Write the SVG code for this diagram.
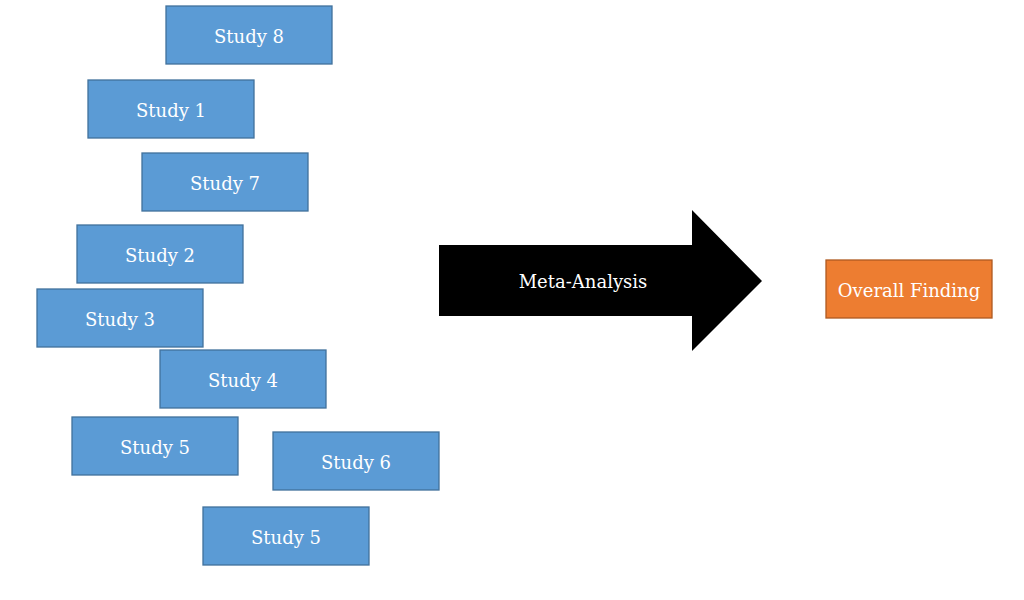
<svg xmlns="http://www.w3.org/2000/svg" width="1024" height="600" viewBox="0 0 1024 600">
<style>
.s{fill:#5B9BD5;stroke:#41719C;stroke-width:1.3}
.o{fill:#ED7D31;stroke:#AE5A21;stroke-width:1.3}
text{font-family:"DejaVu Serif","Liberation Serif",serif;font-size:18px;fill:#FFFFFF;text-anchor:middle;dominant-baseline:central}
</style>
<rect width="1024" height="600" fill="#FFFFFF"/>
<g id="study8"><rect class="s" x="166" y="6" width="166" height="58"/><text x="249" y="36">Study 8</text></g>
<g id="study1"><rect class="s" x="88" y="80" width="166" height="58"/><text x="171" y="110">Study 1</text></g>
<g id="study7"><rect class="s" x="142" y="153" width="166" height="58"/><text x="225" y="183">Study 7</text></g>
<g id="study2"><rect class="s" x="77" y="225" width="166" height="58"/><text x="160" y="255">Study 2</text></g>
<g id="study3"><rect class="s" x="37" y="289" width="166" height="58"/><text x="120" y="319">Study 3</text></g>
<g id="study4"><rect class="s" x="160" y="350" width="166" height="58"/><text x="243" y="380">Study 4</text></g>
<g id="study5a"><rect class="s" x="72" y="417" width="166" height="58"/><text x="155" y="447">Study 5</text></g>
<g id="study6"><rect class="s" x="273" y="432" width="166" height="58"/><text x="356" y="462">Study 6</text></g>
<g id="study5b"><rect class="s" x="203" y="507" width="166" height="58"/><text x="286" y="537">Study 5</text></g>
<g id="meta-analysis"><polygon points="439,245 692,245 692,210 762,281 692,351 692,316 439,316" fill="#000000"/><text x="583" y="281">Meta-Analysis</text></g>
<g id="overall-finding"><rect class="o" x="826" y="260" width="166" height="58"/><text x="909" y="290">Overall Finding</text></g>
<g id="connectors"></g>
</svg>
